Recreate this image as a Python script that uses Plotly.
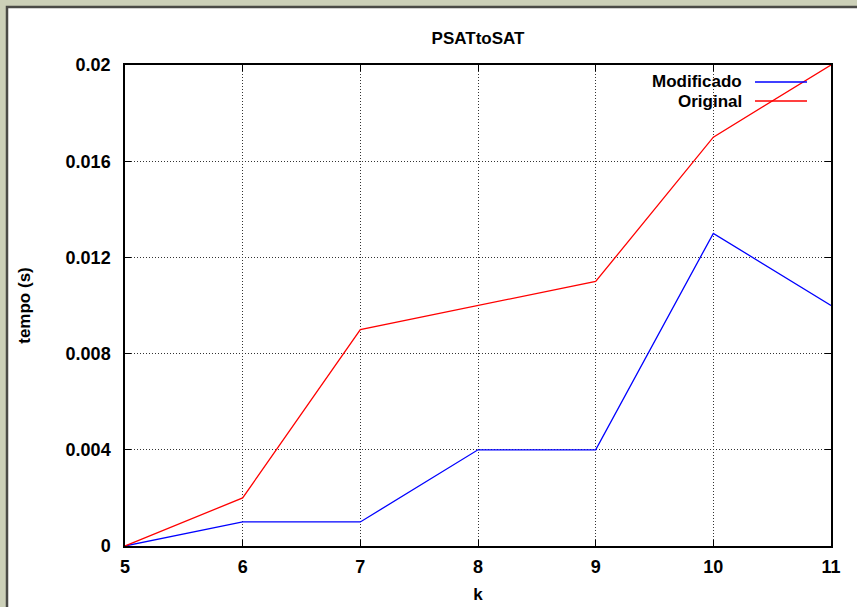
import plotly.graph_objects as go

k = [5, 6, 7, 8, 9, 10, 11]
modificado = [0, 0.001, 0.001, 0.004, 0.004, 0.013, 0.010]
original = [0, 0.002, 0.009, 0.010, 0.011, 0.017, 0.020]
yticks = [0, 0.004, 0.008, 0.012, 0.016, 0.02]
ytick_text = ["0", "0.004", "0.008", "0.012", "0.016", "0.02"]

W, H = 857, 607
L, R, T, B = 125, 26, 65, 61
pw, ph = W - L - R, H - T - B

def px(x):
    return (x - L) / pw

def py(y):
    return 1 - (y - T) / ph

fig = go.Figure()
fig.add_trace(go.Scatter(x=k, y=modificado, mode="lines", name="Modificado",
                         line=dict(color="#0000ff", width=1.3), showlegend=False))
fig.add_trace(go.Scatter(x=k, y=original, mode="lines", name="Original",
                         line=dict(color="#ff0000", width=1.3), showlegend=False))

FAM = "Liberation Sans, Arial, sans-serif"
font_t = dict(family=FAM, size=18, color="black", weight="bold")
font_b = dict(family=FAM, size=17, color="black", weight="bold")

shapes = [
    dict(type="rect", xref="paper", yref="paper", x0=px(7), x1=px(W + 20), y0=py(H + 20), y1=py(7),
         fillcolor="white", line=dict(color="#4a4a46", width=2.5), layer="below"),
    dict(type="line", xref="paper", yref="paper", x0=px(755), x1=px(807), y0=py(82), y1=py(82),
         line=dict(color="#0000ff", width=1.3)),
    dict(type="line", xref="paper", yref="paper", x0=px(755), x1=px(807), y0=py(101), y1=py(101),
         line=dict(color="#ff0000", width=1.3)),
]

annotations = [
    dict(text="Modificado", xref="paper", yref="paper", x=px(744), y=py(82),
         xanchor="right", yanchor="middle", showarrow=False, font=font_b),
    dict(text="Original", xref="paper", yref="paper", x=px(744), y=py(101),
         xanchor="right", yanchor="middle", showarrow=False, font=font_b),
]

grid = dict(showgrid=True, gridcolor="#333333", griddash="1px,2px", gridwidth=1, zeroline=False)

fig.update_layout(
    width=W, height=H,
    margin=dict(l=L, r=R, t=T, b=B),
    paper_bgcolor="#ccd0b8",
    plot_bgcolor="white",
    title=dict(text="PSATtoSAT", x=478 / W, xanchor="center", y=1 - 38 / H, yanchor="middle",
               font=font_b),
    shapes=shapes,
    annotations=annotations,
    xaxis=dict(range=[5, 11], tickvals=k, ticks="inside", ticklen=6, tickcolor="black",
               showline=True, linecolor="black", linewidth=1.5, mirror="ticks",
               ticklabelstandoff=4, automargin=False,
               tickfont=font_t, title=dict(text="k", font=font_b, standoff=12), **grid),
    yaxis=dict(range=[0, 0.02], tickvals=yticks, ticktext=ytick_text, ticks="inside", ticklen=6,
               tickcolor="black", showline=True, linecolor="black", linewidth=1.5, mirror="ticks",
               ticklabelstandoff=9, automargin=False,
               tickfont=font_t, title=dict(text="tempo (s)", font=font_b, standoff=31), **grid),
)

fig.write_html("out.html", config={"displayModeBar": False},
               post_script="document.body.style.margin='0';")
